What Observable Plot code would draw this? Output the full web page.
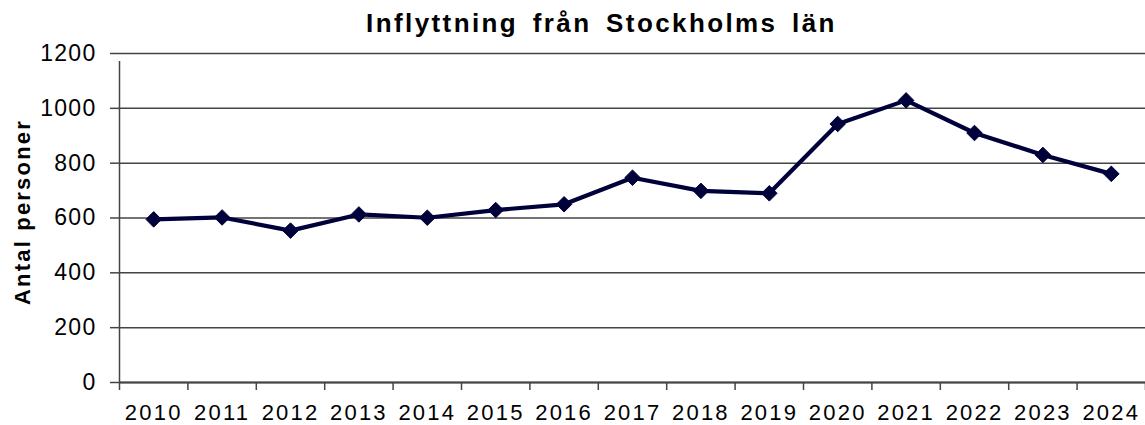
<!DOCTYPE html>
<html>
<head>
<meta charset="utf-8">
<script src="https://cdn.jsdelivr.net/npm/d3@7"></script>
<script src="https://cdn.jsdelivr.net/npm/@observablehq/plot@0.6"></script>
<style>
  html, body { margin: 0; padding: 0; background: #fff; overflow: hidden; }
  #title {
    box-sizing: border-box;
    width: 1145px; height: 40px;
    padding-top: 10px; padding-left: 58px;
    font-family: "Liberation Sans", Arial, sans-serif;
    font-weight: bold; font-size: 26px; line-height: 1;
    letter-spacing: 2.4px; word-spacing: 5px;
    text-align: center; color: #000;
  }
  #chart svg { display: block; }
  #chart g[aria-label="y-axis tick label"] text { letter-spacing: 1.3px; }
  #chart g[aria-label="x-axis tick label"] text { letter-spacing: 2.2px; }
  #chart g[aria-label="text"] text { letter-spacing: 2.2px; }
</style>
</head>
<body>
<div id="title">Inflyttning från Stockholms län</div>
<div id="chart"></div>
<script>
const years = [2010, 2011, 2012, 2013, 2014, 2015, 2016, 2017, 2018, 2019, 2020, 2021, 2022, 2023, 2024];
const values = [595, 602, 554, 613, 601, 629, 650, 747, 699, 690, 943, 1029, 910, 830, 761];
const yTicks = [0, 200, 400, 600, 800, 1000, 1200];
const yLabel = "Antal personer";

const data = years.map((year, i) => ({year, value: values[i]}));
const xDomain = [years[0] - 0.5, years[years.length - 1] + 0.5];
const boundaries = [...years.map(y => y - 0.5), years[years.length - 1] + 0.5];

const font = "'Liberation Sans', Arial, sans-serif";
const lineColor = "#00003a";
const gridColor = "#444";

const chart = Plot.plot({
  width: 1145,
  height: 385,
  marginLeft: 119,
  marginRight: 0,
  marginTop: 13,
  marginBottom: 43,
  style: {fontFamily: font, background: "#fff", overflow: "visible", color: "#000"},
  x: {domain: xDomain},
  y: {domain: [0, 1200]},
  marks: [
    Plot.ruleY(yTicks, {stroke: gridColor, strokeWidth: 1.5}),
    Plot.ruleX([xDomain[0]], {y1: 0, y2: 1200, stroke: gridColor, strokeWidth: 1.5, insetBottom: -8}),
    Plot.ruleY([0], {x1: xDomain[0], x2: xDomain[1], stroke: gridColor, strokeWidth: 1.8}),
    Plot.axisY({ticks: yTicks, tickSize: 9, tickPadding: 14, fontSize: 23, label: null, stroke: gridColor,
      strokeWidth: 1.5, tickFormat: d => String(d)}),
    Plot.axisX({ticks: boundaries, tickSize: 8, tickFormat: () => "", label: null, stroke: gridColor, strokeWidth: 1.5}),
    Plot.axisX({ticks: years, tickSize: 0, tickPadding: 22, fontSize: 22, label: null,
      tickFormat: d => String(d)}),
    Plot.text([yLabel], {frameAnchor: "left", textAnchor: "middle", dx: -97, dy: -6, rotate: -90,
      fontSize: 22, fontWeight: "bold", fill: "#000"}),
    Plot.line(data, {x: "year", y: "value", stroke: lineColor, strokeWidth: 4.2}),
    Plot.dot(data, {x: "year", y: "value", symbol: "diamond2", r: 7, fill: lineColor, stroke: lineColor, strokeWidth: 1})
  ]
});
document.getElementById("chart").appendChild(chart);
</script>
</body>
</html>
